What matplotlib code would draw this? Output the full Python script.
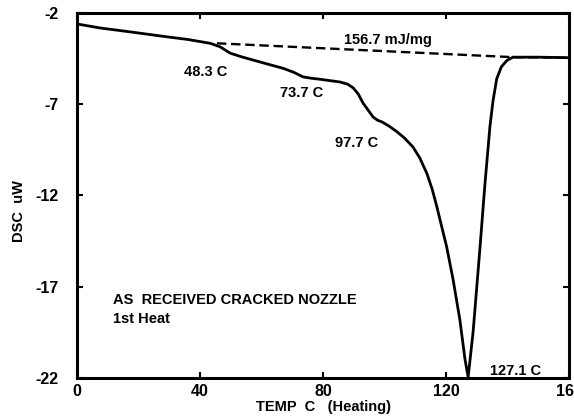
import matplotlib
matplotlib.use("Agg")
import matplotlib.pyplot as plt
import numpy as np

# DSC trace
temp = [0, 7.5, 18, 29, 36, 43.3, 46.5, 49.8, 53.5, 57.3, 62, 67, 70.5, 73.5, 76, 79,
        82, 85.5, 88, 89.8, 91.5, 93, 94.8, 96.3, 97.8, 99.2, 101.5, 104, 106.5,
        109.3, 111.5, 113.8, 115.5, 117, 118.6, 120.2, 122.3, 124.5, 126.2, 127.2,
        128.8, 131, 132.7, 134.3, 135.3, 136.5, 138, 139.8, 141.8, 150, 160]
dsc = [-2.6, -2.82, -3.05, -3.3, -3.45, -3.66, -3.85, -4.2, -4.4, -4.58, -4.8, -5.03,
       -5.25, -5.5, -5.57, -5.63, -5.7, -5.78, -5.9, -6.1, -6.45, -6.93, -7.35, -7.7,
       -7.88, -7.97, -8.2, -8.5, -8.85, -9.35, -9.95, -10.8, -11.65, -12.6, -13.7,
       -14.8, -16.6, -18.8, -21.0, -21.95, -19.5, -14.97, -11.3, -8.2, -6.8, -5.6,
       -4.95, -4.6, -4.42, -4.42, -4.45]

# integration baseline
base_t = [45.5, 141.8, 160]
base_y = [-3.66, -4.42, -4.45]

peak_labels = ["48.3 C", "73.7 C", "97.7 C", "127.1 C"]
label_x = [42.0, 73.0, 91.0, 142.5]
label_y = [-5.25, -6.4, -9.1, -21.6]

x_ticks = [0, 40, 80, 120, 160]
y_ticks = [-22, -17, -12, -7, -2]

plt.rcParams["font.family"] = ["Liberation Sans", "DejaVu Sans"]
plt.rcParams["font.weight"] = "bold"
plt.rcParams["axes.unicode_minus"] = False

fig = plt.figure(figsize=(5.74, 4.18), dpi=100)
ax = fig.add_axes([77 / 574, 1 - 378 / 418, (569 - 77) / 574, (378 - 13) / 418])

ax.plot(temp, dsc, color="black", linewidth=2.0, solid_joinstyle="round")
ax.plot(base_t, base_y, color="black", linewidth=1.7, linestyle=(0, (4, 2)))

for text, tx, ty in zip(peak_labels, label_x, label_y):
    ax.text(tx, ty, text, ha="center", va="center", fontsize=10.5, fontweight="bold")

ax.text(101, -3.5, "156.7 mJ/mg", ha="center", va="center", fontsize=10.5, fontweight="bold")
ax.text(11.8, -17.7, "AS  RECEIVED CRACKED NOZZLE", ha="left", va="center",
        fontsize=10.5, fontweight="bold")
ax.text(11.8, -18.75, "1st Heat", ha="left", va="center", fontsize=10.5, fontweight="bold")

ax.set_xlim(0, 160)
ax.set_ylim(-22, -2)
ax.set_xticks(x_ticks)
ax.set_yticks(y_ticks)
ax.tick_params(direction="in", length=4, width=1.5, top=True, right=True,
               labelsize=11.5)
ax.tick_params(axis="x", pad=4)
ax.tick_params(axis="y", pad=13)
for lbl in ax.get_xticklabels() + ax.get_yticklabels():
    lbl.set_fontweight("bold")
for spine in ax.spines.values():
    spine.set_linewidth(2.2)

ax.set_xlabel("TEMP  C   (Heating)", fontsize=10.5, fontweight="bold", labelpad=1)
ax.set_ylabel("DSC  uW", fontsize=10.5, fontweight="bold")
ax.yaxis.set_label_coords(-0.104, 0.457)

fig.savefig("out.png", dpi=100)
